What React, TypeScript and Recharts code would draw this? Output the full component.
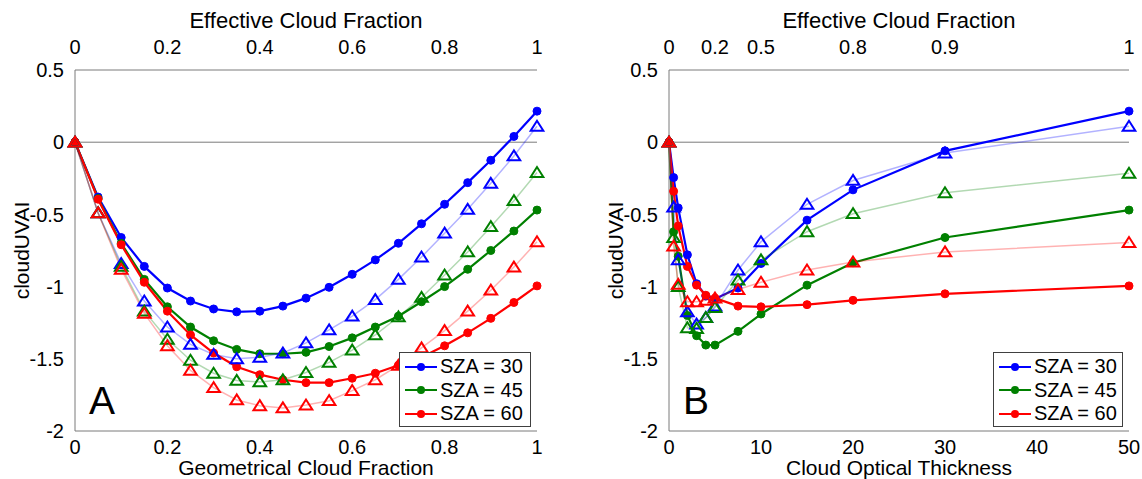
import React from 'react';
import { LineChart, Line, XAxis, YAxis, ReferenceLine, Label } from 'recharts';

const FONT = '"Liberation Sans", Arial, Helvetica, sans-serif';
const AXIS_GRAY = '#7a7a7a';

// ---------- Panel A: geometrical cloud fraction ----------
const geomCloudFraction = [0, 0.05, 0.1, 0.15, 0.2, 0.25, 0.3, 0.35, 0.4, 0.45, 0.5, 0.55, 0.6, 0.65, 0.7, 0.75, 0.8, 0.85, 0.9, 0.95, 1];
const gcfSza30 = [0, -0.38, -0.66, -0.86, -1.01, -1.1, -1.155, -1.175, -1.17, -1.135, -1.08, -1.005, -0.915, -0.815, -0.7, -0.565, -0.43, -0.28, -0.125, 0.04, 0.215];
const gcfSza30Tri = [0, -0.49, -0.84, -1.1, -1.28, -1.4, -1.47, -1.5, -1.49, -1.46, -1.39, -1.3, -1.205, -1.09, -0.95, -0.795, -0.63, -0.465, -0.285, -0.095, 0.11];
const gcfSza45 = [0, -0.39, -0.7, -0.95, -1.14, -1.28, -1.375, -1.435, -1.465, -1.465, -1.455, -1.415, -1.355, -1.28, -1.205, -1.105, -1.0, -0.88, -0.75, -0.615, -0.47];
const gcfSza45Tri = [0, -0.49, -0.86, -1.17, -1.365, -1.51, -1.6, -1.65, -1.66, -1.645, -1.595, -1.525, -1.44, -1.335, -1.21, -1.075, -0.92, -0.76, -0.585, -0.405, -0.21];
const gcfSza60 = [0, -0.395, -0.71, -0.97, -1.17, -1.335, -1.46, -1.555, -1.61, -1.645, -1.665, -1.665, -1.635, -1.6, -1.545, -1.49, -1.41, -1.32, -1.22, -1.11, -0.995];
const gcfSza60Tri = [0, -0.49, -0.88, -1.185, -1.41, -1.58, -1.7, -1.785, -1.825, -1.84, -1.82, -1.79, -1.72, -1.645, -1.545, -1.425, -1.305, -1.17, -1.025, -0.865, -0.69];

// ---------- Panel B: cloud optical thickness ----------
const cloudOpticalThickness = [0, 0.5, 1, 2, 3, 4, 5, 7.5, 10, 15, 20, 30, 50];
const cotSza30 = [0, -0.245, -0.455, -0.78, -0.98, -1.065, -1.085, -1.01, -0.84, -0.54, -0.33, -0.06, 0.215];
const cotSza30Tri = [0, -0.45, -0.815, -1.175, -1.26, -1.215, -1.135, -0.885, -0.69, -0.43, -0.265, -0.075, 0.11];
const cotSza45 = [0, -0.62, -0.79, -1.2, -1.34, -1.405, -1.405, -1.31, -1.19, -0.99, -0.835, -0.66, -0.47];
const cotSza45Tri = [0, -0.66, -1.0, -1.285, -1.29, -1.215, -1.145, -0.955, -0.815, -0.62, -0.495, -0.35, -0.215];
const cotSza60 = [0, -0.34, -0.58, -0.86, -0.99, -1.06, -1.08, -1.135, -1.14, -1.125, -1.095, -1.05, -0.995];
const cotSza60Tri = [0, -0.72, -0.985, -1.105, -1.105, -1.095, -1.08, -1.02, -0.97, -0.885, -0.83, -0.76, -0.695];

// ---------- ticks ----------
const yTicks = [-2, -1.5, -1, -0.5, 0, 0.5];
const gcfTicks = [0, 0.2, 0.4, 0.6, 0.8, 1];
const gcfMinorTicks = [0, 0.04, 0.08, 0.12, 0.16, 0.2, 0.24, 0.28, 0.32, 0.36, 0.4, 0.44, 0.48, 0.52, 0.56, 0.6, 0.64, 0.68, 0.72, 0.76, 0.8, 0.84, 0.88, 0.92, 0.96, 1];
const cotTicks = [0, 10, 20, 30, 40, 50];
const cotMinorTicks = [0, 2, 4, 6, 8, 10, 12, 14, 16, 18, 20, 22, 24, 26, 28, 30, 32, 34, 36, 38, 40, 42, 44, 46, 48, 50];
const ecfTickPositionsCot = [0, 5, 10, 20, 30, 50];
const ecfTickLabels = ['0', '0.2', '0.5', '0.8', '0.9', '1'];

const seriesInfo = [
  { key: 'sza30', name: 'SZA = 30', color: '#0000ff' },
  { key: 'sza45', name: 'SZA = 45', color: '#008000' },
  { key: 'sza60', name: 'SZA = 60', color: '#ff0000' },
];

const panelAData = geomCloudFraction.map((x, i) => ({
  x,
  sza30: gcfSza30[i], sza30t: gcfSza30Tri[i],
  sza45: gcfSza45[i], sza45t: gcfSza45Tri[i],
  sza60: gcfSza60[i], sza60t: gcfSza60Tri[i],
}));

const panelBData = cloudOpticalThickness.map((x, i) => ({
  x,
  sza30: cotSza30[i], sza30t: cotSza30Tri[i],
  sza45: cotSza45[i], sza45t: cotSza45Tri[i],
  sza60: cotSza60[i], sza60t: cotSza60Tri[i],
}));

const makeTriangle = (color: string) => (props: any) => {
  const { cx, cy, index } = props;
  if (cx == null || cy == null) return <g key={`t-${index}`} />;
  const s = 5.5;
  return (
    <polygon
      key={`t-${index}`}
      points={`${cx},${cy - s} ${cx - s * 1.15},${cy + s * 0.8} ${cx + s * 1.15},${cy + s * 0.8}`}
      fill="none"
      stroke={color}
      strokeWidth={2}
    />
  );
};

const tickStyle = { fill: '#000', fontSize: 20, fontFamily: FONT };
const bottomTitleStyle = { fill: '#000', fontSize: 21, fontFamily: FONT };
const topTitleStyle = { fill: '#000', fontSize: 22, fontFamily: FONT };

type PanelProps = {
  left: number;
  width: number;
  data: any[];
  domain: [number, number];
  ticks: number[];
  minorTicks: number[];
  topTicks: number[];
  topFormatter: (v: number) => string;
  xLabel: string;
  yAxisWidth: number;
  marginRight: number;
  letter: string;
  legendLeft: number;
  legendWidth: number;
};

function LegendBox({ left, width }: { left: number; width: number }) {
  return (
    <div
      style={{
        position: 'absolute', left, top: 352, width, height: 75,
        border: '1px solid #404040', background: '#fff', boxSizing: 'border-box',
      }}
    >
      {seriesInfo.map((s, i) => (
        <div key={s.key} style={{ position: 'absolute', left: 4, top: 2 + i * 23.5, height: 23, display: 'flex', alignItems: 'center' }}>
          <svg width={34} height={12} style={{ display: 'block' }}>
            <line x1={1} y1={6} x2={33} y2={6} stroke={s.color} strokeWidth={2} />
            <circle cx={17} cy={6} r={4} fill={s.color} />
          </svg>
          <span style={{ fontFamily: FONT, fontSize: 20, marginLeft: 2, color: '#000', lineHeight: '23px' }}>{s.name}</span>
        </div>
      ))}
    </div>
  );
}

function Panel(p: PanelProps) {
  const aux = { dataKey: 'x', type: 'number' as const, domain: p.domain, allowDataOverflow: true, interval: 0 as const };
  return (
    <div style={{ position: 'absolute', left: p.left, top: 0, width: p.width, height: 479 }}>
      <LineChart width={p.width} height={479} data={p.data} margin={{ top: 0, right: p.marginRight, bottom: 0, left: 0 }}>
        <XAxis
          xAxisId="b" dataKey="x" type="number" domain={p.domain} ticks={p.ticks} interval={0}
          orientation="bottom" height={48} tickLine={false} tickSize={4} tickMargin={5}
          axisLine={{ stroke: AXIS_GRAY }} tick={tickStyle}
        >
          <Label value={p.xLabel} position="insideBottom" offset={4} style={bottomTitleStyle} />
        </XAxis>
        <XAxis
          xAxisId="t" {...aux} ticks={p.topTicks} tickFormatter={p.topFormatter}
          orientation="top" height={70} tickLine={false} tickSize={4} tickMargin={12}
          axisLine={{ stroke: AXIS_GRAY }} tick={tickStyle}
        >
          <Label value="Effective Cloud Fraction" position="insideTop" offset={12} style={topTitleStyle} />
        </XAxis>
        <XAxis xAxisId="bmin" {...aux} ticks={p.minorTicks} orientation="bottom" mirror height={0} tick={false} tickSize={3} axisLine={false} tickLine={{ stroke: AXIS_GRAY }} />
        <XAxis xAxisId="bmaj" {...aux} ticks={p.ticks} orientation="bottom" mirror height={0} tick={false} tickSize={6} axisLine={false} tickLine={{ stroke: AXIS_GRAY }} />
        <XAxis xAxisId="tmin" {...aux} ticks={p.minorTicks} orientation="top" mirror height={0} tick={false} tickSize={3} axisLine={false} tickLine={{ stroke: AXIS_GRAY }} />
        <XAxis xAxisId="tmaj" {...aux} ticks={p.ticks} orientation="top" mirror height={0} tick={false} tickSize={6} axisLine={false} tickLine={{ stroke: AXIS_GRAY }} />
        <YAxis
          yAxisId="l" type="number" domain={[-2, 0.5]} ticks={yTicks} interval={0}
          width={p.yAxisWidth} tickLine={false} tickSize={5} tickMargin={6}
          axisLine={{ stroke: AXIS_GRAY }} tick={tickStyle}
        >
          <Label
            content={(props: any) => {
              const vb = props.viewBox || {};
              const cx = vb.x + vb.width - 46;
              const cy = vb.y + vb.height / 2;
              return (
                <text x={cx} y={cy} transform={`rotate(-90, ${cx}, ${cy})`} textAnchor="middle" fontSize={21} fontFamily={FONT} fill="#000">
                  cloudUVAI
                </text>
              );
            }}
          />
        </YAxis>
        <YAxis yAxisId="lm" type="number" domain={[-2, 0.5]} allowDataOverflow ticks={yTicks} interval={0} orientation="left" mirror width={0} tick={false} tickSize={5} axisLine={false} tickLine={{ stroke: AXIS_GRAY }} />
        <YAxis yAxisId="rm" type="number" domain={[-2, 0.5]} allowDataOverflow ticks={yTicks} interval={0} orientation="right" mirror width={0} tick={false} tickSize={5} axisLine={{ stroke: AXIS_GRAY }} tickLine={{ stroke: AXIS_GRAY }} />
        <ReferenceLine xAxisId="b" yAxisId="l" y={0} stroke={AXIS_GRAY} strokeWidth={1} />
        {seriesInfo.map((s) => (
          <Line
            key={s.key} xAxisId="b" yAxisId="l" dataKey={s.key} stroke={s.color} strokeWidth={2.2}
            dot={{ r: 4, fill: s.color, stroke: s.color, strokeWidth: 1 }} activeDot={false}
            isAnimationActive={false} type="linear"
          />
        ))}
        {seriesInfo.map((s) => (
          <Line
            key={s.key + 't'} xAxisId="b" yAxisId="l" dataKey={s.key + 't'} stroke={s.color} strokeWidth={1.5}
            strokeOpacity={0.3} dot={makeTriangle(s.color)} activeDot={false}
            isAnimationActive={false} type="linear"
          />
        ))}
      </LineChart>
      <LegendBox left={p.legendLeft} width={p.legendWidth} />
      <div style={{ position: 'absolute', left: p.yAxisWidth + 14, top: 381, fontFamily: FONT, fontSize: 39, lineHeight: 1, color: '#000' }}>
        {p.letter}
      </div>
    </div>
  );
}

export default function App() {
  return (
    <div style={{ position: 'absolute', left: 0, top: 0, width: 1142, height: 479, background: '#fff', overflow: 'hidden' }}>
      <Panel
        left={0} width={571} data={panelAData} domain={[0, 1]}
        ticks={gcfTicks} minorTicks={gcfMinorTicks} topTicks={gcfTicks}
        topFormatter={(v: number) => String(v)}
        xLabel="Geometrical Cloud Fraction" yAxisWidth={75} marginRight={34}
        letter="A" legendLeft={399} legendWidth={132}
      />
      <Panel
        left={571} width={571} data={panelBData} domain={[0, 50]}
        ticks={cotTicks} minorTicks={cotMinorTicks} topTicks={ecfTickPositionsCot}
        topFormatter={(v: number) => ecfTickLabels[ecfTickPositionsCot.indexOf(v)] ?? ''}
        xLabel="Cloud Optical Thickness" yAxisWidth={98} marginRight={13}
        letter="B" legendLeft={422} legendWidth={130}
      />
    </div>
  );
}
